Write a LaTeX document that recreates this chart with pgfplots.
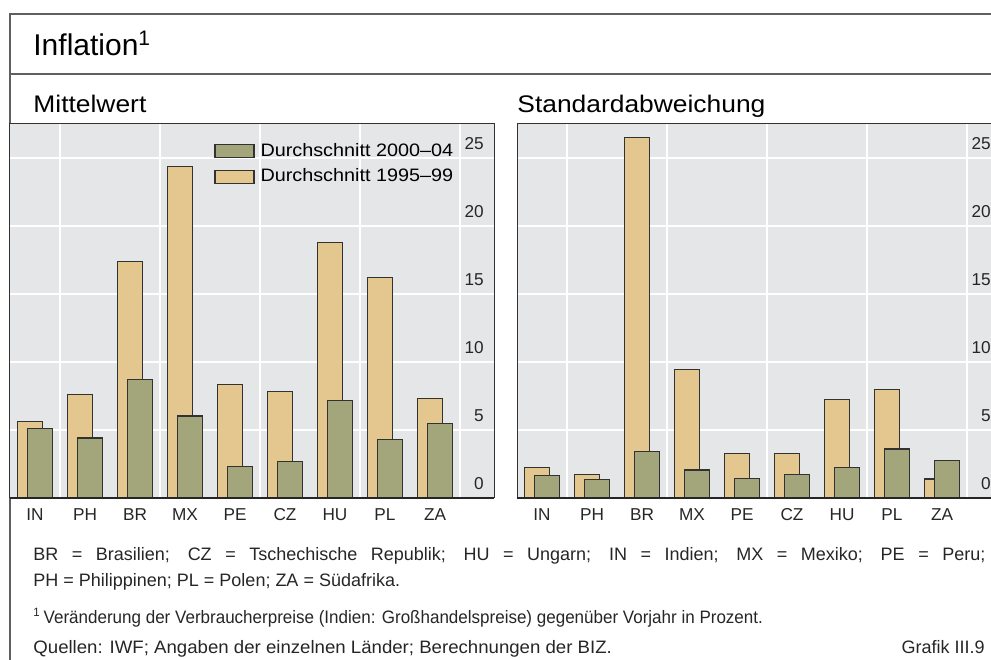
\documentclass[border=0pt]{standalone}
\usepackage{fontspec}
\setmainfont{Liberation Sans}
\newfontfamily\condfont[FakeStretch=1.0]{Liberation Sans}
\newfontfamily\condfontA[FakeStretch=0.945]{Liberation Sans}
\newfontfamily\condfontB[FakeStretch=1.035]{Liberation Sans}
\newfontfamily\subfont[FakeStretch=1.1]{Liberation Sans}
\newfontfamily\legfont[FakeStretch=1.1]{Liberation Sans}
\newfontfamily\titlefont[FakeStretch=1.0]{Liberation Sans}
\usepackage{pgfplots}
\pgfplotsset{compat=1.18}
\definecolor{bgc}{RGB}{229,230,232}
\definecolor{orng}{RGB}{228,199,142}
\definecolor{grn}{RGB}{163,165,123}
\definecolor{edgec}{RGB}{50,50,50}
\definecolor{framec}{RGB}{95,95,95}
\pgfplotsset{
 panel/.style={
  scale only axis, width=242pt, height=187.25pt,
  xmin=-0.5, xmax=9.18, ymin=0, ymax=27.54,
  axis background/.style={fill=bgc},
  axis line style={draw=edgec, line width=0.5pt},
  xtick={0,...,8}, xticklabels={IN,PH,BR,MX,PE,CZ,HU,PL,ZA},
  minor xtick={0.5,2.5,4.5,6.5,8.5},
  xminorgrids=true, xmajorgrids=false, ymajorgrids=true,
  minor grid style={white, line width=0.65pt},
  major grid style={white, line width=0.65pt},
  ytick={0,5,...,25},
  major tick length=0pt, minor tick length=0pt,
  yticklabel pos=right,
  /pgf/number format/assume math mode=true,
  tick label style={font=\fontsize{8.6}{10}\selectfont, color=black!85},
  yticklabel style={anchor=base east, xshift=-1.65pt, yshift=4.1pt},
  xticklabel style={yshift=-1.6pt},
  clip=false,
 },
 obar/.style={ybar, bar width=0.5, bar shift=-0.094, fill=orng, draw=edgec, line width=0.55pt, area legend,
   legend image code/.code={\draw[fill=orng, draw=edgec, line width=0.55pt] (0pt,-3.2pt) rectangle (19.5pt,3.2pt);}},
 gbar/.style={ybar, bar width=0.5, bar shift=0.094, fill=grn, draw=edgec, line width=0.55pt, area legend,
   legend image code/.code={\draw[fill=grn, draw=edgec, line width=0.55pt] (0pt,-3.2pt) rectangle (19.5pt,3.2pt);}},
}
\begin{document}
\begin{tikzpicture}
% frame
\draw[framec, line width=0.7pt] (5pt,-25pt) -- (5pt,322.5pt) -- (550pt,322.5pt);
\draw[framec, line width=0.7pt] (5pt,292.5pt) -- (550pt,292.5pt);
\node[anchor=base west, inner sep=0pt, font=\titlefont\fontsize{15}{17}\selectfont] at (16.5pt,301.5pt) {Inflation\textsuperscript{1}};
\node[anchor=base west, inner sep=0pt, font=\subfont\fontsize{12}{14}\selectfont] at (16.5pt,273pt) {Mittelwert};
\node[anchor=base west, inner sep=0pt, font=\subfont\fontsize{12}{14}\selectfont] at (258.5pt,273pt) {Standardabweichung};

% left panel
\begin{axis}[panel, at={(5pt,80.5pt)}, anchor=south west,
  reverse legend,
  legend style={at={(0.4215,0.949)}, anchor=north west, draw=none, fill=none, inner sep=0pt,
    font=\legfont\fontsize{9}{10}\selectfont, row sep=4.9pt, column sep=3pt,
    nodes={inner sep=0pt}},
  legend cell align=left]
\addplot[obar] coordinates {(0,5.64) (1,7.61) (2,17.41) (3,24.36) (4,8.37) (5,7.83) (6,18.77) (7,16.23) (8,7.34)};
\addlegendentry{Durchschnitt 1995–99}
\addplot[gbar] coordinates {(0,5.10) (1,4.41) (2,8.72) (3,6.03) (4,2.34) (5,2.66) (6,7.14) (7,4.31) (8,5.47)};
\addlegendentry{Durchschnitt 2000–04}
\draw[black!85, line width=1.1pt] (rel axis cs:0,0) -- (rel axis cs:1,0);
\end{axis}

% right panel
\begin{axis}[panel, at={(258.5pt,80.5pt)}, anchor=south west]
\addplot[obar] coordinates {(0,2.25) (1,1.74) (2,26.54) (3,9.46) (4,3.24) (5,3.28) (6,7.23) (7,7.97) (8,1.40)};
\addplot[gbar] coordinates {(0,1.67) (1,1.35) (2,3.41) (3,2.06) (4,1.45) (5,1.76) (6,2.25) (7,3.60) (8,2.75)};
\draw[black!85, line width=1.1pt] (rel axis cs:0,0) -- (rel axis cs:1,0);
\end{axis}

% footnotes
\node[anchor=base west, inner sep=0pt, text width=476pt, align=justify,
  font=\condfont\fontsize{9}{13}\selectfont, color=black!85] at (16.5pt,49pt)
  {BR = Brasilien; CZ = Tschechische Republik; HU = Ungarn; IN = Indien; MX = Mexiko; PE = Peru;\linebreak
   PH = Philippinen; PL = Polen; ZA = Südafrika.};
\node[anchor=base west, inner sep=0pt, font=\condfontA\fontsize{9}{13}\selectfont, color=black!85] at (16.5pt,17.5pt)
  {\textsuperscript{1}\,Veränderung der Verbraucherpreise (Indien: Großhandelspreise) gegenüber Vorjahr in Prozent.};
\node[anchor=base west, inner sep=0pt, font=\condfontB\fontsize{9}{13}\selectfont, color=black!85] at (16.5pt,3pt)
  {Quellen: IWF; Angaben der einzelnen Länder; Berechnungen der BIZ.};
\node[anchor=base east, inner sep=0pt, font=\condfont\fontsize{9}{13}\selectfont, color=black!85] at (492.5pt,3pt)
  {Grafik III.9};

\pgfresetboundingbox
\useasboundingbox (0pt,0pt) rectangle (495.5pt,329.5pt);
\end{tikzpicture}
\end{document}
